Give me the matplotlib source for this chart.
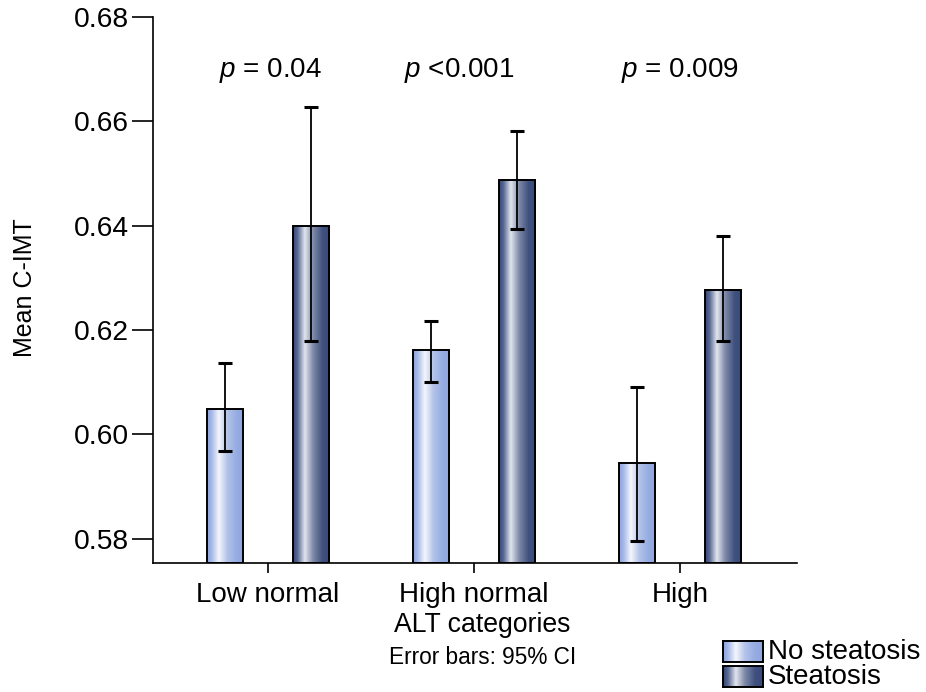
import matplotlib
matplotlib.use('Agg')
import matplotlib.pyplot as plt
import numpy as np
from matplotlib.colors import LinearSegmentedColormap
from matplotlib.patches import Rectangle

plt.rcParams['font.family'] = ['Liberation Sans', 'DejaVu Sans']
plt.rcParams['mathtext.fontset'] = 'custom'
plt.rcParams['mathtext.it'] = 'Liberation Sans:italic'
plt.rcParams['mathtext.rm'] = 'Liberation Sans'

# mean C-IMT by ALT category, with 95% CI bounds
categories = ['Low normal', 'High normal', 'High']
no_steatosis = [0.6048, 0.6162, 0.5944]
no_steatosis_lo = [0.5967, 0.6100, 0.5796]
no_steatosis_hi = [0.6137, 0.6217, 0.6090]
steatosis = [0.6400, 0.6488, 0.6277]
steatosis_lo = [0.6179, 0.6394, 0.6179]
steatosis_hi = [0.6627, 0.6581, 0.6381]
p_labels = ['$p$ = 0.04', '$p$ <0.001', '$p$ = 0.009']

yticks = [0.58, 0.60, 0.62, 0.64, 0.66, 0.68]

light_cmap = LinearSegmentedColormap.from_list(
    'light', [(0, '#8ba3de'), (0.12, '#a5b8e6'), (0.32, '#f4f6fc'),
              (0.55, '#b3c3ea'), (0.8, '#96ace2'), (1, '#8ea6df')])
dark_cmap = LinearSegmentedColormap.from_list(
    'dark', [(0, '#33477a'), (0.12, '#56678f'), (0.32, '#e2e5ee'),
             (0.55, '#7c89a8'), (0.8, '#40517f'), (1, '#384a7a')])
grad = np.linspace(0, 1, 200).reshape(1, -1)


def gradient_bar(ax, x, w, bottom, top, cmap):
    ax.imshow(grad, cmap=cmap, aspect='auto', extent=(x - w / 2, x + w / 2, bottom, top),
              zorder=2, interpolation='bilinear')
    ax.add_patch(Rectangle((x - w / 2, bottom), w, top - bottom, fill=False,
                           edgecolor='black', linewidth=1.4, zorder=3))


fig = plt.figure(figsize=(9.26, 6.92), dpi=100)
ax = fig.add_axes([0.1652, 0.1864, 0.6955, 0.789])

ymin, ymax = 0.5753, 0.68
xpos = np.arange(len(categories))
width = 0.175
offset = 0.209

for i in range(len(categories)):
    gradient_bar(ax, xpos[i] - offset, width, ymin, no_steatosis[i], light_cmap)
    gradient_bar(ax, xpos[i] + offset, width, ymin, steatosis[i], dark_cmap)

err_kw = dict(fmt='none', ecolor='black', elinewidth=1.3, capsize=5, capthick=2.2, zorder=4)
ax.errorbar(xpos - offset, no_steatosis,
            yerr=[np.array(no_steatosis) - np.array(no_steatosis_lo),
                  np.array(no_steatosis_hi) - np.array(no_steatosis)], **err_kw)
ax.errorbar(xpos + offset, steatosis,
            yerr=[np.array(steatosis) - np.array(steatosis_lo),
                  np.array(steatosis_hi) - np.array(steatosis)], **err_kw)

for i, lab in enumerate(p_labels):
    ax.text(xpos[i] + [0.01, -0.07, 0.0][i], 0.6698, lab, ha='center', va='center', fontsize=20)

ax.set_xlim(-0.558, 2.568)
ax.set_ylim(ymin, ymax)
ax.set_yticks(yticks)
ax.set_yticklabels(['%.2f' % t for t in yticks], fontsize=20.3)
ax.set_xticks(xpos)
ax.set_xticklabels(categories, fontsize=20)
ax.tick_params(axis='y', direction='out', length=15, width=1.2, pad=2)
ax.tick_params(axis='x', direction='out', length=7, width=1.2, pad=7)
for s in ['top', 'right']:
    ax.spines[s].set_visible(False)
for s in ['left', 'bottom']:
    ax.spines[s].set_linewidth(1.2)

fig.text(25 / 926, 1 - 288 / 692, 'Mean C-IMT', rotation=90, ha='center', va='center', fontsize=18)
fig.text(482 / 926, 1 - 625 / 692, 'ALT categories', ha='center', va='center', fontsize=19.2)
fig.text(483 / 926, 1 - 658 / 692, 'Error bars: 95% CI', ha='center', va='center', fontsize=16.3)

# legend swatches
for yy, cmap, lab in [(641, light_cmap, 'No steatosis'), (666, dark_cmap, 'Steatosis')]:
    sax = fig.add_axes([723 / 926, 1 - (yy + 21) / 692, 40 / 926, 21 / 692])
    sax.imshow(grad, cmap=cmap, aspect='auto', interpolation='bilinear')
    sax.set_xticks([])
    sax.set_yticks([])
    for sp in sax.spines.values():
        sp.set_linewidth(1.4)
    fig.text(768 / 926, 1 - (yy + 11) / 692, lab, ha='left', va='center', fontsize=20)

fig.savefig('out.png', dpi=100)
